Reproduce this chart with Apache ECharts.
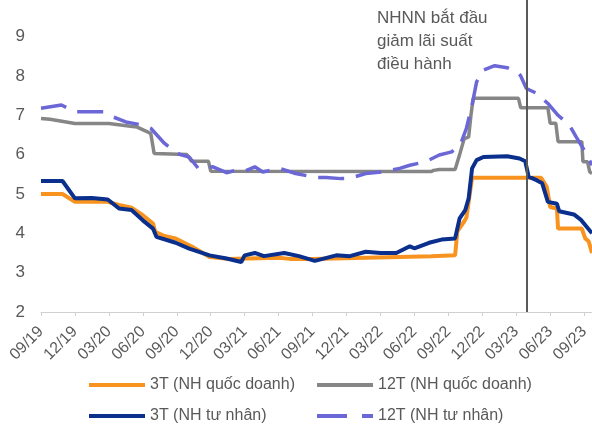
<!DOCTYPE html>
<html>
<head>
<meta charset="utf-8">
<script src="https://cdn.jsdelivr.net/npm/echarts@6/dist/echarts.min.js"></script>
<style>
  html, body { margin: 0; padding: 0; background: #fff; }
  #chart { width: 592px; height: 428px; }
</style>
</head>
<body>
<div id="chart"></div>
<script>
// truc x tinh bang so thang ke tu 09/2019
var tickLabels = ["09/19", "12/19", "03/20", "06/20", "09/20", "12/20", "03/21", "06/21", "09/21",
  "12/21", "03/22", "06/22", "09/22", "12/22", "03/23", "06/23", "09/23"];
var cutMonth = 42.9; // NHNN bat dau giam lai suat

// 3T (NH quoc doanh)
var monthsQD3 = [0, 1.9, 3.0, 5.9, 6.9, 8.0, 9.0, 9.9, 10.1, 10.9, 11.9, 13.4, 14.9, 16.5, 21, 22, 24,
  34.5, 36.6, 36.8, 37.4, 37.6, 37.8, 38.1, 44.2, 44.7, 45.0, 45.6, 45.7, 47.8, 48.1, 48.4, 48.7];
var valuesQD3 = [5.0, 5.0, 4.8, 4.8, 4.72, 4.65, 4.46, 4.25, 4.04, 3.93, 3.87, 3.65, 3.4, 3.35, 3.38, 3.35, 3.35,
  3.42, 3.44, 4.05, 4.3, 4.4, 4.8, 5.41, 5.41, 5.18, 4.67, 4.63, 4.12, 4.12, 3.87, 3.8, 3.5];

// 12T (NH quoc doanh)
var monthsQD12 = [0, 0.8, 3.0, 6.0, 7.9, 8.5, 9.7, 10.0, 12.9, 13.3, 14.8, 15.0, 34.5, 34.7, 35.2,
  36.6, 37.0, 37.4, 37.8, 38.0, 38.2, 42.2, 42.4, 44.8, 45.0, 45.5, 45.7, 47.8, 47.9, 48.3, 48.5, 48.7];
var valuesQD12 = [6.92, 6.9, 6.79, 6.79, 6.72, 6.7, 6.54, 6.03, 6.0, 5.83, 5.83, 5.58, 5.57, 5.6, 5.62,
  5.62, 6.0, 6.4, 6.45, 7.0, 7.43, 7.43, 7.19, 7.19, 6.8, 6.8, 6.33, 6.33, 5.82, 5.82, 5.56, 5.52];

// 3T (NH tu nhan)
var monthsTN3 = [0, 1.9, 3.0, 4.5, 5.9, 6.9, 8.0, 9.0, 9.9, 10.2, 11.9, 13.1, 14.9, 16.4, 17.7, 18.0, 18.9,
  19.7, 21.5, 22.8, 24.2, 26.1, 27.3, 28.7, 30, 31.4, 32.6, 33.0, 34.3, 35.4, 36.6, 37.0, 37.5, 37.8,
  38.1, 38.5, 39.1, 41.2, 42.3, 42.8, 43.1, 43.8, 44.3, 44.8, 45.6, 45.8, 47.1, 47.7, 48.7];
var valuesTN3 = [5.33, 5.33, 4.89, 4.9, 4.86, 4.63, 4.59, 4.33, 4.12, 3.91, 3.76, 3.61, 3.44, 3.36, 3.27, 3.44, 3.5,
  3.42, 3.5, 3.42, 3.3, 3.44, 3.42, 3.53, 3.5, 3.5, 3.67, 3.62, 3.76, 3.84, 3.87, 4.38, 4.59, 4.89,
  5.65, 5.86, 5.94, 5.96, 5.9, 5.83, 5.44, 5.35, 5.27, 4.8, 4.75, 4.56, 4.48, 4.35, 4.0];

// 12T (NH tu nhan)
var monthsTN12 = [0, 1.8, 3.0, 5.5, 6.35, 7.5, 9.0, 9.7, 10.9, 12.0, 13.1, 13.9, 15.2, 16.4, 17.2, 18.0,
  18.9, 19.6, 21.1, 22.5, 24.3, 25.2, 26.5, 27.2, 28.7, 30.2, 31.7, 32.6, 34.0, 35.2, 36.3, 37.1, 37.6,
  38.1, 38.5, 39.1, 40.1, 41.2, 42.2, 42.4, 42.9, 43.8, 44.8, 45.7, 46.7, 47.3, 48.1, 48.7];
var valuesTN12 = [7.18, 7.26, 7.09, 7.09, 6.96, 6.83, 6.75, 6.67, 6.29, 6.03, 5.94, 5.65, 5.69, 5.54, 5.6, 5.58,
  5.69, 5.56, 5.65, 5.52, 5.42, 5.42, 5.39, 5.39, 5.52, 5.56, 5.65, 5.73, 5.82, 5.99, 6.07, 6.28, 6.67,
  7.26, 7.85, 8.15, 8.26, 8.21, 8.07, 8.0, 7.68, 7.56, 7.3, 7.0, 6.75, 6.45, 6.07, 5.73];

var names = ["3T (NH quốc doanh)", "12T (NH quốc doanh)", "3T (NH tư nhân)", "12T (NH tư nhân)"];

function pairs(xs, ys) {
  var out = [];
  for (var i = 0; i < xs.length; i++) out.push([xs[i], ys[i]]);
  return out;
}

var textColor = "#595959";
var font = "Liberation Sans, Arial, sans-serif";
var solidIcon = "path://M0 0h56v4h-56z";
var dashIcon = "path://M0 0h30v4h-30z M45 0h11v4h-11z";

// moi muc chu thich mot legend rieng de cot thang hang nhu ban goc
function legendItem(name, left, top, icon) {
  return {
    left: left,
    top: top,
    itemWidth: 56,
    itemHeight: 4,
    itemGap: 0,
    icon: icon,
    selectedMode: false,
    textStyle: { color: textColor, fontSize: 16, fontFamily: font },
    data: [name]
  };
}

var myChart = echarts.init(document.getElementById("chart"));
var option = {
  animation: false,
  textStyle: { fontFamily: font },
  grid: { left: 41, right: 0, top: 0, bottom: 116 },
  xAxis: {
    type: "value",
    min: 0,
    max: 48.7,
    interval: 3,
    axisLine: { lineStyle: { color: "#d0d0d0", width: 1 } },
    axisTick: {
      show: true,
      length: 4,
      lineStyle: { color: "#d0d0d0" },
      customValues: tickLabels.map(function (l, i) { return i * 3; })
    },
    splitLine: { show: false },
    axisLabel: {
      rotate: 45,
      margin: 17,
      color: textColor,
      fontSize: 16,
      fontFamily: font,
      customValues: tickLabels.map(function (l, i) { return i * 3; }),
      formatter: function (v) { return tickLabels[Math.round(v / 3)] || ""; }
    }
  },
  yAxis: {
    type: "value",
    min: 2,
    max: 9.93,
    interval: 1,
    axisLine: { show: false },
    axisTick: { show: false },
    splitLine: { show: false },
    axisLabel: {
      margin: 16,
      color: textColor,
      fontSize: 17,
      fontFamily: font,
      customValues: [2, 3, 4, 5, 6, 7, 8, 9]
    }
  },
  legend: [
    legendItem(names[0], 84, 372, solidIcon),
    legendItem(names[1], 312, 372, solidIcon),
    legendItem(names[2], 84, 403, solidIcon),
    legendItem(names[3], 312, 403, dashIcon)
  ],
  graphic: [
    {
      type: "text",
      left: 377,
      top: 7,
      style: {
        text: "NHNN bắt đầu\ngiảm lãi suất\nđiều hành",
        fill: textColor,
        font: "17px " + font,
        lineHeight: 23
      }
    }
  ],
  series: [
    {
      name: names[0],
      type: "line",
      symbol: "none",
      lineStyle: { color: "#f7931e", width: 4 },
      itemStyle: { color: "#f7931e" },
      data: pairs(monthsQD3, valuesQD3),
      z: 2
    },
    {
      name: names[1],
      type: "line",
      symbol: "none",
      lineStyle: { color: "#868686", width: 3.5 },
      itemStyle: { color: "#868686" },
      data: pairs(monthsQD12, valuesQD12),
      z: 2
    },
    {
      name: names[2],
      type: "line",
      symbol: "none",
      lineStyle: { color: "#0a2f8c", width: 4 },
      itemStyle: { color: "#0a2f8c" },
      data: pairs(monthsTN3, valuesTN3),
      z: 3
    },
    {
      name: names[3],
      type: "line",
      symbol: "none",
      lineStyle: { color: "#6b67d6", width: 3.5, type: [26, 12] },
      itemStyle: { color: "#6b67d6" },
      data: pairs(monthsTN12, valuesTN12),
      z: 3,
      markLine: {
        silent: true,
        symbol: ["none", "none"],
        label: { show: false },
        lineStyle: { color: "#595959", width: 2, type: "solid" },
        data: [{ xAxis: cutMonth }],
        z: 5
      }
    }
  ]
};
myChart.setOption(option);
</script>
</body>
</html>
